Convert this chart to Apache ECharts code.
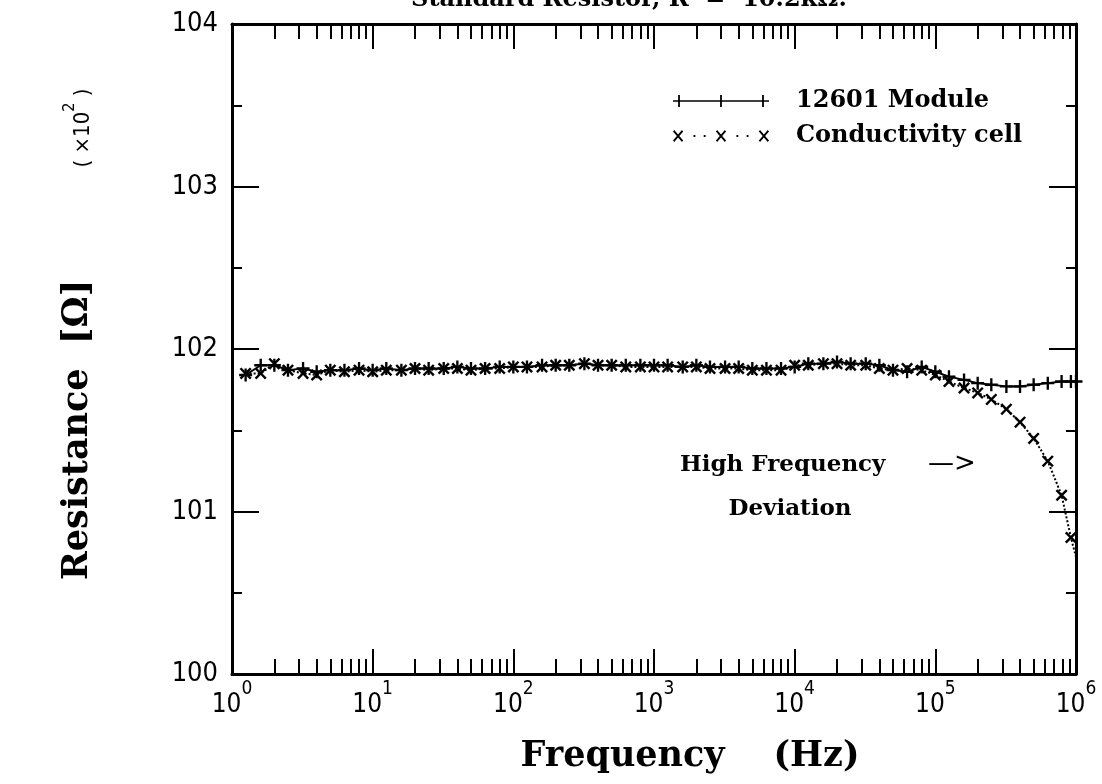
<!DOCTYPE html>
<html>
<head>
<meta charset="utf-8">
<script src="https://cdn.jsdelivr.net/npm/echarts@6/dist/echarts.min.js"></script>
<style>
html,body{margin:0;padding:0;background:#fff;}
#chart{width:1102px;height:784px;}
</style>
</head>
<body>
<div id="chart"></div>
<script>
// ---- data ----
const freq = [1.25,1.6,2,2.5,3.2,4,5,6.3,8,10,
  12.5,16,20,25,32,40,50,63,80,100,
  125,160,200,250,320,400,500,630,800,1000,
  1250,1600,2000,2500,3200,4000,5000,6300,8000,10000,
  12500,16000,20000,25000,32000,40000,50000,63000,80000,100000,
  125000,160000,200000,250000,320000,400000,500000,630000,790000,920000,1000000];
const moduleR = [101.84,101.9,101.9,101.87,101.88,101.86,101.87,101.87,101.88,101.87,
  101.88,101.87,101.88,101.88,101.88,101.89,101.88,101.88,101.89,101.89,
  101.89,101.9,101.9,101.9,101.91,101.9,101.9,101.9,101.9,101.9,
  101.9,101.89,101.9,101.89,101.89,101.89,101.88,101.88,101.88,101.89,
  101.91,101.91,101.92,101.91,101.91,101.9,101.87,101.86,101.89,101.86,
  101.83,101.81,101.79,101.78,101.77,101.77,101.78,101.79,101.8,101.8,101.8];
const cellR = [101.85,101.85,101.91,101.87,101.85,101.84,101.87,101.86,101.87,101.86,
  101.87,101.87,101.88,101.87,101.88,101.88,101.87,101.88,101.88,101.89,
  101.89,101.89,101.9,101.9,101.91,101.9,101.9,101.89,101.89,101.89,
  101.89,101.89,101.89,101.88,101.88,101.88,101.87,101.87,101.87,101.9,
  101.9,101.91,101.91,101.9,101.9,101.88,101.87,101.88,101.87,101.84,
  101.8,101.76,101.73,101.69,101.63,101.55,101.45,101.31,101.1,100.84,100.72];
const seriesNames = ['12601 Module', 'Conductivity cell'];
const yTicks = [100, 101, 102, 103, 104];
const xDecades = [1, 10, 100, 1000, 10000, 100000, 1000000];
const xMinor = [];
xDecades.slice(0, -1).forEach(d => { for (let k = 2; k <= 9; k++) xMinor.push(d * k); });

// ---- symbols ----
function rect(x, y, w, h) { return `M${x} ${y}L${x+w} ${y}L${x+w} ${y+h}L${x} ${y+h}Z`; }
function crossPoly(cx, cy, L, w) {
  const pts = [[-w,-L],[w,-L],[w,-w],[L,-w],[L,w],[w,w],[w,L],[-w,L],[-w,w],[-L,w],[-L,-w],[-w,-w]];
  const s = Math.SQRT1_2;
  return pts.map((p, i) => {
    const x = (p[0] - p[1]) * s + cx, y = (p[0] + p[1]) * s + cy;
    return (i ? 'L' : 'M') + x.toFixed(2) + ' ' + y.toFixed(2);
  }).join('') + 'Z';
}
const plusSym = 'path://' + 'M4.1 0L5.9 0L5.9 4.1L10 4.1L10 5.9L5.9 5.9L5.9 10L4.1 10L4.1 5.9L0 5.9L0 4.1L4.1 4.1Z';
const crossSym = 'path://' + crossPoly(5, 5, 5.6, 0.95);
const plusIcon = 'path://' + rect(0, 5.2, 96, 1.6) + rect(5.1, 0, 1.8, 12) + rect(47.1, 0, 1.8, 12) + rect(89.1, 0, 1.8, 12);
const crossIcon = 'path://' + crossPoly(6, 6, 6.2, 0.85) + crossPoly(48, 6, 6.2, 0.85) + crossPoly(90, 6, 6.2, 0.85)
  + rect(21.1, 5.1, 1.8, 1.8) + rect(31.1, 5.1, 1.8, 1.8) + rect(63.1, 5.1, 1.8, 1.8) + rect(73.1, 5.1, 1.8, 1.8);

const SANS = '"DejaVu Sans Condensed", "Liberation Sans Narrow", "DejaVu Sans", sans-serif';
const SERIF = '"DejaVu Serif", serif';

const chart = echarts.init(document.getElementById('chart'), null, {renderer: 'canvas'});

const G = {left: 232, right: 26, top: 24, bottom: 110};
const axisLineStyle = {color: '#000', width: 3};
const tickStyle = {color: '#000', width: 2};

function logAxis(pos, major, showLabel) {
  return {
    type: 'log', logBase: 10, min: 1, max: 1000000, position: pos,
    axisLine: {show: major, onZero: false, lineStyle: axisLineStyle},
    axisTick: major
      ? {show: true, inside: true, length: 25, customValues: xDecades, lineStyle: tickStyle}
      : {show: true, inside: true, length: 15, customValues: xMinor, lineStyle: tickStyle},
    axisLabel: showLabel ? {
      show: true, margin: 6, customValues: xDecades,
      formatter: v => '{b|10}{s|' + Math.round(Math.log10(v)) + '}',
      rich: {
        b: {fontFamily: SANS, fontSize: 26, color: '#000', verticalAlign: 'bottom', lineHeight: 38},
        s: {fontFamily: SANS, fontSize: 19, color: '#000', verticalAlign: 'top', lineHeight: 38}
      }
    } : {show: false},
    splitLine: {show: false}, minorTick: {show: false}, minorSplitLine: {show: false}
  };
}

const option = {
  animation: false,
  backgroundColor: '#fff',
  grid: G,
  xAxis: [logAxis('bottom', true, true), logAxis('bottom', false, false), logAxis('top', true, false), logAxis('top', false, false)],
  yAxis: [
    {
      type: 'value', min: yTicks[0], max: yTicks[yTicks.length - 1], interval: 1, position: 'left',
      axisLine: {show: true, lineStyle: axisLineStyle},
      axisTick: {show: true, inside: true, length: 27, lineStyle: tickStyle},
      minorTick: {show: true, splitNumber: 2, length: 10, lineStyle: tickStyle},
      axisLabel: {show: true, margin: 14, fontFamily: SANS, fontSize: 27, color: '#000'},
      splitLine: {show: false}
    },
    {
      type: 'value', min: yTicks[0], max: yTicks[yTicks.length - 1], interval: 1, position: 'right',
      axisLine: {show: true, lineStyle: axisLineStyle},
      axisTick: {show: true, inside: true, length: 27, lineStyle: tickStyle},
      minorTick: {show: true, splitNumber: 2, length: 10, lineStyle: tickStyle},
      axisLabel: {show: false},
      splitLine: {show: false}
    }
  ],
  legend: {
    orient: 'vertical', left: 668, top: 83, itemWidth: 96, itemHeight: 12, itemGap: 9,
    symbolKeepAspect: false,
    itemStyle: {borderWidth: 0},
    textStyle: {fontFamily: SERIF, fontWeight: 'bold', fontSize: 24, color: '#000', padding: [0, 0, 0, 22], lineHeight: 26},
    data: [{name: seriesNames[0], icon: plusIcon}, {name: seriesNames[1], icon: crossIcon}]
  },
  series: [
    {
      name: seriesNames[0], type: 'line', xAxisIndex: 0, yAxisIndex: 0,
      data: freq.map((f, i) => [f, moduleR[i]]),
      symbol: plusSym, symbolSize: 13, showAllSymbol: true,
      itemStyle: {color: '#000', borderWidth: 0},
      lineStyle: {color: '#000', width: 2, type: 'solid'},
      z: 2
    },
    {
      name: seriesNames[1], type: 'line', xAxisIndex: 0, yAxisIndex: 0,
      data: freq.map((f, i) => (i === freq.length - 1 ? {value: [f, cellR[i]], symbol: 'none'} : [f, cellR[i]])),
      symbol: crossSym, symbolSize: 12, showAllSymbol: true,
      itemStyle: {color: '#000', borderWidth: 0},
      lineStyle: {color: '#000', width: 2, type: 'dotted'},
      z: 3
    }
  ],
  graphic: [
    {type: 'text', x: 629, y: -12, style: {text: 'Standard Resistor, R  =  10.2kΩ.', font: 'bold 24px ' + SERIF, fill: '#000', textAlign: 'center', textVerticalAlign: 'top'}},
    {type: 'text', x: 78, y: 430, rotation: Math.PI / 2, style: {text: 'Resistance  [Ω]', font: 'bold 35px ' + SERIF, fill: '#000', textAlign: 'center', textVerticalAlign: 'middle'}},
    {type: 'text', x: 78, y: 128, rotation: Math.PI / 2, style: {
      text: '{a|( ×10}{b|2}{a| )}', textAlign: 'center', textVerticalAlign: 'middle',
      rich: {
        a: {fontFamily: SANS, fontSize: 22, fill: '#000', verticalAlign: 'bottom', lineHeight: 32},
        b: {fontFamily: SANS, fontSize: 16, fill: '#000', verticalAlign: 'top', lineHeight: 32}
      }
    }},
    {type: 'text', x: 690, y: 757, style: {text: 'Frequency    (Hz)', font: 'bold 35px ' + SERIF, fill: '#000', textAlign: 'center', textVerticalAlign: 'middle'}},
    {type: 'text', x: 680, y: 465, style: {text: 'High Frequency', font: 'bold 23px ' + SERIF, fill: '#000', textAlign: 'left', textVerticalAlign: 'middle'}},
    {type: 'text', x: 928, y: 464, style: {text: '—>', font: '26px "DejaVu Sans", sans-serif', fill: '#000', textAlign: 'left', textVerticalAlign: 'middle'}},
    {type: 'text', x: 790, y: 509, style: {text: 'Deviation', font: 'bold 23px ' + SERIF, fill: '#000', textAlign: 'center', textVerticalAlign: 'middle'}}
  ]
};
chart.setOption(option);
</script>
</body>
</html>
